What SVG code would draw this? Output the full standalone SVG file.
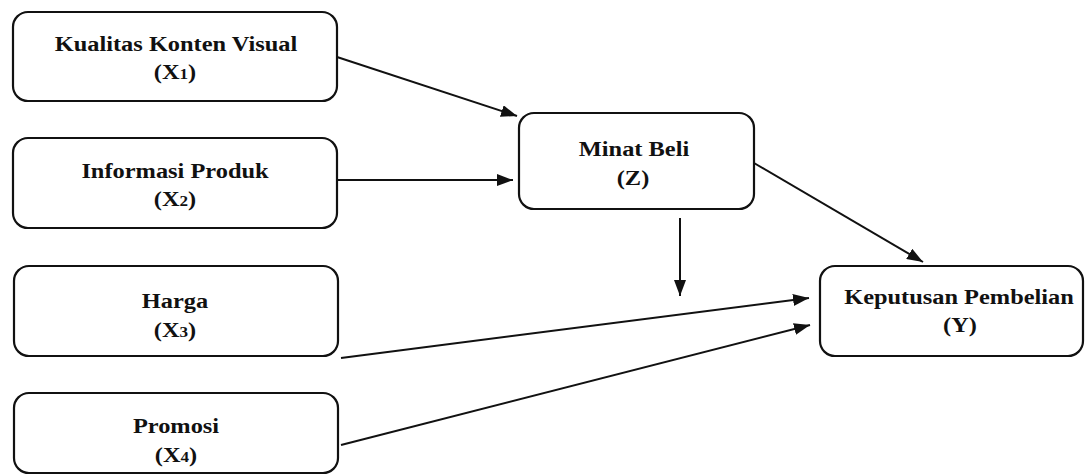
<svg xmlns="http://www.w3.org/2000/svg" width="1086" height="476" viewBox="0 0 1086 476">
<style>
.box{fill:#fff;stroke:#111;stroke-width:2.2}
.t{font-family:"Liberation Serif","Times New Roman",serif;font-weight:bold;font-size:20px;fill:#111;text-anchor:middle}
.s{font-size:14px}
.c{stroke:#111;stroke-width:2;fill:none;marker-end:url(#ah)}
</style>
<defs>
<marker id="ah" viewBox="0 0 16 12" refX="16" refY="6" markerWidth="16" markerHeight="12" markerUnits="userSpaceOnUse" orient="auto">
<path d="M0,0 L16,6 L0,12 z" fill="#111"/>
</marker>
</defs>
<rect width="1086" height="476" fill="#fff"/>
<g id="x1"><rect class="box" x="13" y="12" width="324" height="89" rx="15"/><text class="t" transform="translate(176,51) scale(1.22,1)">Kualitas Konten Visual</text><text class="t" transform="translate(175,79) scale(1.22,1)">(X<tspan class="s">1</tspan>)</text></g>
<g id="x2"><rect class="box" x="13" y="138" width="324" height="90" rx="15"/><text class="t" transform="translate(175,178) scale(1.22,1)">Informasi Produk</text><text class="t" transform="translate(175,206) scale(1.22,1)">(X<tspan class="s">2</tspan>)</text></g>
<g id="x3"><rect class="box" x="14" y="266" width="324" height="90" rx="15"/><text class="t" transform="translate(175,308) scale(1.22,1)">Harga</text><text class="t" transform="translate(175,337) scale(1.22,1)">(X<tspan class="s">3</tspan>)</text></g>
<g id="x4"><rect class="box" x="14" y="393" width="324" height="80" rx="15"/><text class="t" transform="translate(176,433) scale(1.22,1)">Promosi</text><text class="t" transform="translate(176,462) scale(1.22,1)">(X<tspan class="s">4</tspan>)</text></g>
<g id="z"><rect class="box" x="519" y="113" width="235" height="96" rx="15"/><text class="t" transform="translate(634,156) scale(1.22,1)">Minat Beli</text><text class="t" transform="translate(633,185) scale(1.22,1)">(Z)</text></g>
<g id="y"><rect class="box" x="820" y="266" width="263" height="90" rx="15"/><text class="t" transform="translate(959,304) scale(1.22,1)">Keputusan Pembelian</text><text class="t" transform="translate(960,332) scale(1.22,1)">(Y)</text></g>
<g id="connectors">
<line class="c" x1="337" y1="57" x2="517" y2="116"/>
<line class="c" x1="338" y1="180" x2="513" y2="180"/>
<line class="c" x1="680" y1="218" x2="680" y2="296"/>
<line class="c" x1="754" y1="163" x2="923" y2="262"/>
<line class="c" x1="341" y1="358" x2="809" y2="298"/>
<line class="c" x1="341" y1="445" x2="810" y2="325"/>
</g>
</svg>
